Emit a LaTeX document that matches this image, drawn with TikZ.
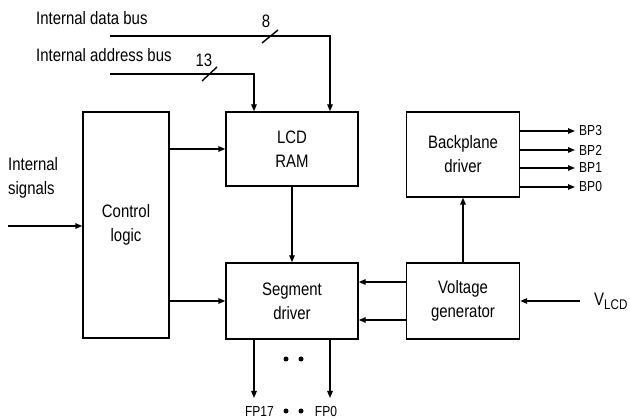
\documentclass[tikz,border=0pt]{standalone}
\usepackage{fontspec}
\setmainfont[FakeStretch=0.83]{Liberation Sans}
\usetikzlibrary{arrows.meta}
\usetikzlibrary{positioning}

\tikzset{
    blk/.style={draw, line width=1.4pt, inner sep=0pt, align=center},
    sig/.style={line width=1.4pt, -{Triangle[length=7pt,width=5.5pt]}},
    wire/.style={line width=1.4pt},
    lbl/.style={inner sep=0pt, anchor=west},
    pin/.style={inner sep=0pt, font=\fontsize{14.5}{16}\selectfont},
}

\begin{document}
\begin{tikzpicture}[x=1pt,y=-1pt,font=\fontsize{18}{24}\selectfont]
    \useasboundingbox (0,0) rectangle (630,419);

    % blocks
    \node[blk, minimum width=132pt, minimum height=74pt] (ram) at (292,149) {LCD\\RAM};
    \node[blk, minimum width=86pt, minimum height=226pt] (ctrl) at (126,225) {Control\\logic};
    \node[blk, minimum width=132pt, minimum height=76pt] (seg) at (292,301) {Segment\\driver};
    \node[blk, minimum width=113pt, minimum height=76pt] (volt) at (463,301) {Voltage\\generator};
    \node[blk, minimum width=113pt, minimum height=85pt] (bpd) at (463,154.5) {Backplane\\driver};

    % buses
    \node[lbl] (tdbus) at (36,18) {Internal data bus};
    \node[lbl] (tabus) at (36,55) {Internal address bus};
    \coordinate (dbus) at (110,36);
    \coordinate (abus) at (110,74);
    \draw[sig] (dbus) -| ([xshift=38pt]ram.north);
    \draw[sig] (abus) -| ([xshift=-38pt]ram.north);
    \draw[wire] (262,43) -- (278,30);
    \draw[wire] (202,81) -- (217,67);
    \node (n8) at (266,21) {8};
    \node (n13) at (204,60) {13};

    % control
    \node[lbl, align=left] (tsig) at (8,178) {Internal\\signals};
    \coordinate (sigin) at (8,226);
    \draw[sig] (sigin) -- (sigin -| ctrl.west);
    \draw[sig] (ctrl.east |- ram.west) -- (ram.west);
    \draw[sig] (ctrl.east |- seg.west) -- (seg.west);
    \draw[sig] (ram.south) -- (seg.north);

    % voltage generator
    \draw[sig] ([yshift=19pt]volt.west) -- ([yshift=19pt]seg.east);
    \draw[sig] ([yshift=-19pt]volt.west) -- ([yshift=-19pt]seg.east);
    \draw[sig] (volt.north) -- (bpd.south);
    \node[lbl] (vlcd) at (594,301) {V\raisebox{-4pt}{\fontsize{14}{14}\selectfont LCD}};
    \coordinate (vin) at (580,301);
    \draw[sig] (vin) -- (volt.east);

    % backplane outputs
    \foreach \n/\yy in {3/131,2/150,1/168,0/187}{
        \node[pin, anchor=west] (bp\n) at (579,\yy) {BP\n};
        \draw[sig] (bpd.east |- bp\n.west) -- ([xshift=-4pt]bp\n.west);
    }

    % frontplane outputs
    \node[pin] (fp17) at (259.5,412) {FP17};
    \node[pin] (fp0) at (326,412) {FP0};
    \coordinate (fp17end) at (254,398);
    \coordinate (fp0end) at (330,398);
    \draw[sig] (seg.south -| fp17end) -- (fp17end);
    \draw[sig] (seg.south -| fp0end) -- (fp0end);
    \foreach \xx in {286,301}{
        \fill (\xx,359) circle (2.5pt);
        \fill (\xx,411) circle (2.5pt);
    }
\end{tikzpicture}
\end{document}
